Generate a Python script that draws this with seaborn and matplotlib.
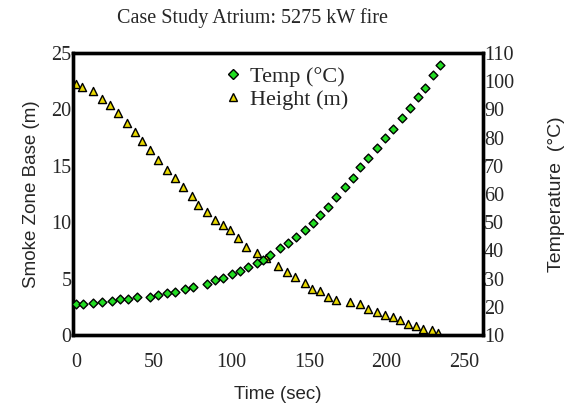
import numpy as np
import pandas as pd
import seaborn as sns
import matplotlib.pyplot as plt
from matplotlib.lines import Line2D

# Smoke layer base height (m)
height_time = [0, 3.6, 10.9, 16.5, 21.8, 27, 32.6, 37.9, 42.2, 47.6, 52.7, 58.3,
               63.7, 68.8, 74.4, 78.5, 84.1, 89.4, 94.6, 99.1, 104.2, 109.8,
               116.3, 122.7, 130, 135.6, 140.9, 147.4, 151.7, 157, 162.2, 167.8,
               176.4, 182.8, 188, 193.6, 198.9, 204, 208.6, 213.7, 219.3, 223.4,
               229, 233]
height_m = [22.2, 22.0, 21.6, 20.9, 20.4, 19.7, 18.8, 18.0, 17.2, 16.4, 15.5, 14.6,
            13.9, 13.1, 12.3, 11.5, 10.9, 10.2, 9.75, 9.3, 8.6, 7.8,
            7.3, 6.8, 6.1, 5.6, 5.1, 4.6, 4.1, 3.9, 3.4, 3.1,
            2.9, 2.7, 2.3, 2.0, 1.8, 1.6, 1.3, 1.0, 0.8, 0.5,
            0.4, 0.2]

# Smoke layer temperature (C)
temp_time = [0, 4.6, 11.1, 16.5, 22.9, 28.3, 33.6, 39, 47.6, 52.9, 58.3, 63.7,
             70.1, 75.5, 84.1, 89.4, 94.8, 100.2, 105.5, 110.9, 116.3, 120.5,
             124.8, 131.3, 136.6, 142, 147.4, 152.7, 157, 162.4, 167.8, 173.1,
             178.5, 182.8, 188.1, 193.6, 198.9, 204.2, 209.7, 215, 220.3, 224.7,
             230, 234.3]
temp_c = [21.0, 21.0, 21.5, 21.8, 22.2, 22.7, 22.9, 23.4, 23.6, 24.2, 24.8, 25.4,
          26.2, 26.9, 28.1, 29.5, 30.3, 31.6, 32.8, 34.2, 35.5, 36.6,
          38.4, 40.7, 42.5, 44.7, 47.2, 49.6, 52.6, 55.3, 59.0, 62.4,
          65.6, 69.7, 72.7, 76.2, 79.8, 82.9, 86.8, 90.6, 94.3, 97.7,
          102.0, 105.7]

x_ticks = [0, 50, 100, 150, 200, 250]

df_h = pd.DataFrame({'time': height_time, 'value': height_m})
df_t = pd.DataFrame({'time': temp_time, 'value': temp_c})

sns.set_style('white')
serif = ['Liberation Serif', 'DejaVu Serif']
sans = ['Liberation Sans', 'DejaVu Sans']

fig = plt.figure(figsize=(5.74, 4.07), dpi=100)
ax = fig.add_axes([0.127, 0.177, 0.714, 0.693])
ax2 = ax.twinx()

sns.scatterplot(data=df_h, x='time', y='value', ax=ax, marker='^', s=34,
                color='#e8d800', edgecolor='black', linewidth=1.0, zorder=3)
sns.scatterplot(data=df_t, x='time', y='value', ax=ax2, marker='D', s=20,
                color='#22dd22', edgecolor='black', linewidth=1.0, zorder=3)

ax.set_xlim(-2, 262)
ax.set_ylim(0, 25)
ax2.set_ylim(10, 110)
ax.set_xticks(x_ticks)
ax.set_yticks([0, 5, 10, 15, 20, 25])
ax2.set_yticks(range(10, 111, 10))

for a in (ax, ax2):
    a.tick_params(length=0, labelsize=14.5)
    for lab in a.get_xticklabels() + a.get_yticklabels():
        lab.set_family(serif)
    for sp in a.spines.values():
        sp.set_linewidth(2.4)
        sp.set_color('black')
ax.tick_params(axis='x', pad=13)
ax.tick_params(axis='y', pad=1)
ax2.tick_params(axis='y', pad=1)

ax.set_xlabel('Time (sec)', family=sans, fontsize=13.5, labelpad=10)
ax.set_ylabel('Smoke Zone Base (m)', family=sans, fontsize=13.5, labelpad=8)
ax2.set_ylabel('Temperature  (°C)', family=sans, fontsize=14, labelpad=24)
fig.text(0.44, 0.955, 'Case Study Atrium: 5275 kW fire', family=serif,
         fontsize=14.5, ha='center', va='center')

handles = [
    Line2D([], [], linestyle='none', marker='D', markersize=5,
           markerfacecolor='#22dd22', markeredgecolor='black', label='Temp (°C)'),
    Line2D([], [], linestyle='none', marker='^', markersize=6,
           markerfacecolor='#e8d800', markeredgecolor='black', label='Height (m)'),
]
ax2.legend(handles=handles, loc='upper left', bbox_to_anchor=(0.33, 1.0),
           frameon=False, prop={'family': serif, 'size': 16},
           handlelength=1.0, handletextpad=0.3, labelspacing=0.1,
           borderaxespad=0.2)

fig.savefig('out.png', dpi=100)
